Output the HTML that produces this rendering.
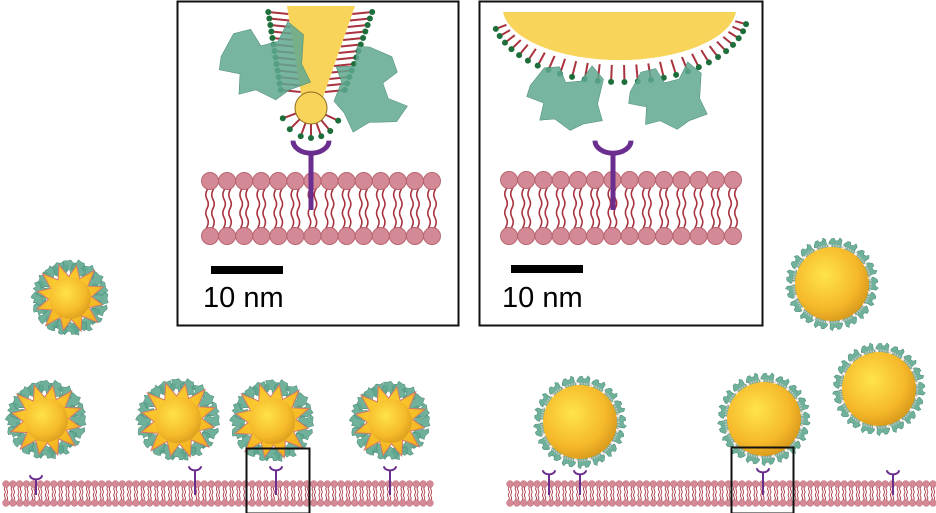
<!DOCTYPE html>
<html><head><meta charset="utf-8"><style>
html,body{margin:0;padding:0;background:#fff;width:936px;height:513px;overflow:hidden}
svg{display:block}
text{font-family:"Liberation Sans",sans-serif}
</style></head><body>
<svg id="s" width="936" height="513" viewBox="0 0 936 513" xmlns="http://www.w3.org/2000/svg">
<defs>
<radialGradient id="gs" cx="0.4" cy="0.38" r="0.65"><stop offset="0" stop-color="#ffe44a"/><stop offset="0.7" stop-color="#f5b82a"/><stop offset="1" stop-color="#d99a1c"/></radialGradient>
<radialGradient id="gst" cx="0.45" cy="0.4" r="0.6"><stop offset="0" stop-color="#ffd93a"/><stop offset="1" stop-color="#f2b01e"/></radialGradient>
</defs>
<rect x="177.5" y="1.5" width="281" height="324" fill="#fff" stroke="#111" stroke-width="2"/>
<rect x="479.5" y="1.5" width="283" height="324" fill="#fff" stroke="#111" stroke-width="2"/>
<g id="g"></g>
<rect x="211" y="266" width="72" height="8" fill="#000"/>
<text x="203" y="307" font-size="29">10 nm</text>
<rect x="511" y="265" width="72" height="8" fill="#000"/>
<text x="502" y="307" font-size="29">10 nm</text>
<rect x="246.5" y="448.5" width="63" height="65" fill="none" stroke="#111" stroke-width="2"/>
<rect x="731.5" y="447.5" width="62" height="66" fill="none" stroke="#111" stroke-width="2"/>
</svg>
<script>
var g=document.getElementById('g'),h='';
function membrane(x0,x1,yt,yb,r,tw){
  var n=Math.round((x1-x0)/(2*r))+1,sp=(x1-x0)/(n-1);
  for(var i=0;i<n;i++){var x=x0+i*sp;
    for(var k=-1;k<=1;k+=2){var xx=x+k*r*0.35,d='M'+xx+' '+yt;var seg=(yb-yt)/6;
      for(var j=1;j<=6;j++){d+=' Q'+(xx+(j%2?1:-1)*r*0.3)+' '+(yt+(j-0.5)*seg)+' '+xx+' '+(yt+j*seg);}
      h+='<path d="'+d+'" fill="none" stroke="#a8323e" stroke-width="'+tw+'"/>';}
  }
  for(var i=0;i<n;i++){var x=x0+i*sp;
    h+='<circle cx="'+x+'" cy="'+yt+'" r="'+r+'" fill="#d48a96" stroke="#b86470" stroke-width="'+(tw*0.6)+'"/>';
    h+='<circle cx="'+x+'" cy="'+yb+'" r="'+r+'" fill="#d48a96" stroke="#b86470" stroke-width="'+(tw*0.6)+'"/>';}
}
function receptor(x,yc,w,y2,sw){
  h+='<path d="M'+(x-w)+' '+(yc-w*0.3)+' A'+w+' '+(w*0.7)+' 0 0 0 '+(x+w)+' '+(yc-w*0.3)+'" fill="none" stroke="#6a2e8e" stroke-width="'+sw+'"/>';
  h+='<line x1="'+x+'" y1="'+(yc+w*0.35)+'" x2="'+x+'" y2="'+y2+'" stroke="#6a2e8e" stroke-width="'+sw+'"/>';
}
function blob(cx,cy,s,rot,op){
  h+='<path transform="translate('+cx+' '+cy+') rotate('+rot+') scale('+s+')" d="M-30 -5 L-20 -20 L-8 -22 L-2 -10 L10 -12 L18 -25 L28 -15 L25 5 L30 18 L15 22 L5 28 L-8 20 L-20 22 L-18 8 L-32 4 Z" fill="#5fa890" fill-opacity="'+(op||0.9)+'" stroke="#4a8a74" stroke-width="'+(0.5/s)+'"/>';
}
function lig(x1,y1,x2,y2,w){
  h+='<line x1="'+x1+'" y1="'+y1+'" x2="'+x2+'" y2="'+y2+'" stroke="#a8323e" stroke-width="'+w+'"/><circle cx="'+x2+'" cy="'+y2+'" r="'+(w*1.5)+'" fill="#1d6e3a"/>';
}
membrane(210,432,181,236,8.5,1.6);
for(var i=0;i<13;i++){var y=14+i*6.5;var fx=(y-6)/94;var lx=287+15*fx,rx=355-33*fx;
  lig(lx,y,lx-20,y-2,2);lig(rx,y,rx+20,y-2,2);}
h+='<polygon points="287,6 355,6 322,100 302,100" fill="#f8d45a"/>';
[200,225,250,270,290,310,335].forEach(function(a){var t=a*Math.PI/180;lig(311+16*Math.cos(t),108-16*Math.sin(t),311+30*Math.cos(t),108-30*Math.sin(t),2);});
h+='<circle cx="311" cy="108" r="16" fill="#f8d45a" stroke="#8a6a20" stroke-width="1"/>';
blob(265,60,1.45,-5,0.85);blob(370,88,1.35,80,0.85);
receptor(311,146,18,210,5);
for(var a=10;a<=170;a+=6){var t=a*Math.PI/180;var ex=620+117*Math.cos(t),ey=12+53*Math.sin(t);
  lig(ex,ey,620+128*Math.cos(t),12+70*Math.sin(t),2);}
h+='<path d="M503 12 L736 12 A117 53 0 0 1 503 12 Z" fill="#f8d45a"/>';
blob(567,95,1.25,5,0.85);blob(668,95,1.25,-5,0.85);
membrane(509,733,180,236,8.5,1.6);
receptor(613,146,18,210,5);
membrane(6,430,484,503,3.4,0.8);
membrane(510,933,484,503,3.4,0.8);
[[36,477],[195,468],[276,468],[390,468]].forEach(function(p){receptor(p[0],p[1],6,495,2);});
[[549,472],[580,472],[763,470],[893,472]].forEach(function(p){receptor(p[0],p[1],6,495,2);});
function star(cx,cy,R){
  for(var i=0;i<20;i++){var t=i/20*2*Math.PI;blob(cx+(R*0.85)*Math.cos(t),cy+(R*0.85)*Math.sin(t),0.26,i*37);}
  var p='';for(var i=0;i<24;i++){var t=i/24*2*Math.PI+0.2;var r=(i%2?R*0.6:R*(0.92+0.1*((i*7)%3)/2));p+=(cx+r*Math.cos(t)).toFixed(1)+','+(cy+r*Math.sin(t)).toFixed(1)+' ';}
  h+='<polygon points="'+p+'" fill="url(#gst)" stroke="#d27a6a" stroke-width="1"/>';
  h+='<circle cx="'+cx+'" cy="'+cy+'" r="'+R*0.58+'" fill="url(#gs)" opacity="0.85"/>';
}
star(70,298,36);star(46,420,38);star(178,420,40);star(272,421,40);star(390,421,38);
function sph(cx,cy,R){
  for(var i=0;i<17;i++){var t=i/17*2*Math.PI;blob(cx+(R+4)*Math.cos(t),cy+(R+4)*Math.sin(t),0.22,i*21+90);}
  h+='<circle cx="'+cx+'" cy="'+cy+'" r="'+(R+1.5)+'" fill="none" stroke="#e8c8c8" stroke-width="2" stroke-dasharray="1 1.5"/>';
  h+='<circle cx="'+cx+'" cy="'+cy+'" r="'+R+'" fill="url(#gs)"/>';
}
sph(580,422,37);sph(764,419,37);sph(879,389,37);sph(832,284,37);
g.innerHTML=h;
</script>
</body></html>
